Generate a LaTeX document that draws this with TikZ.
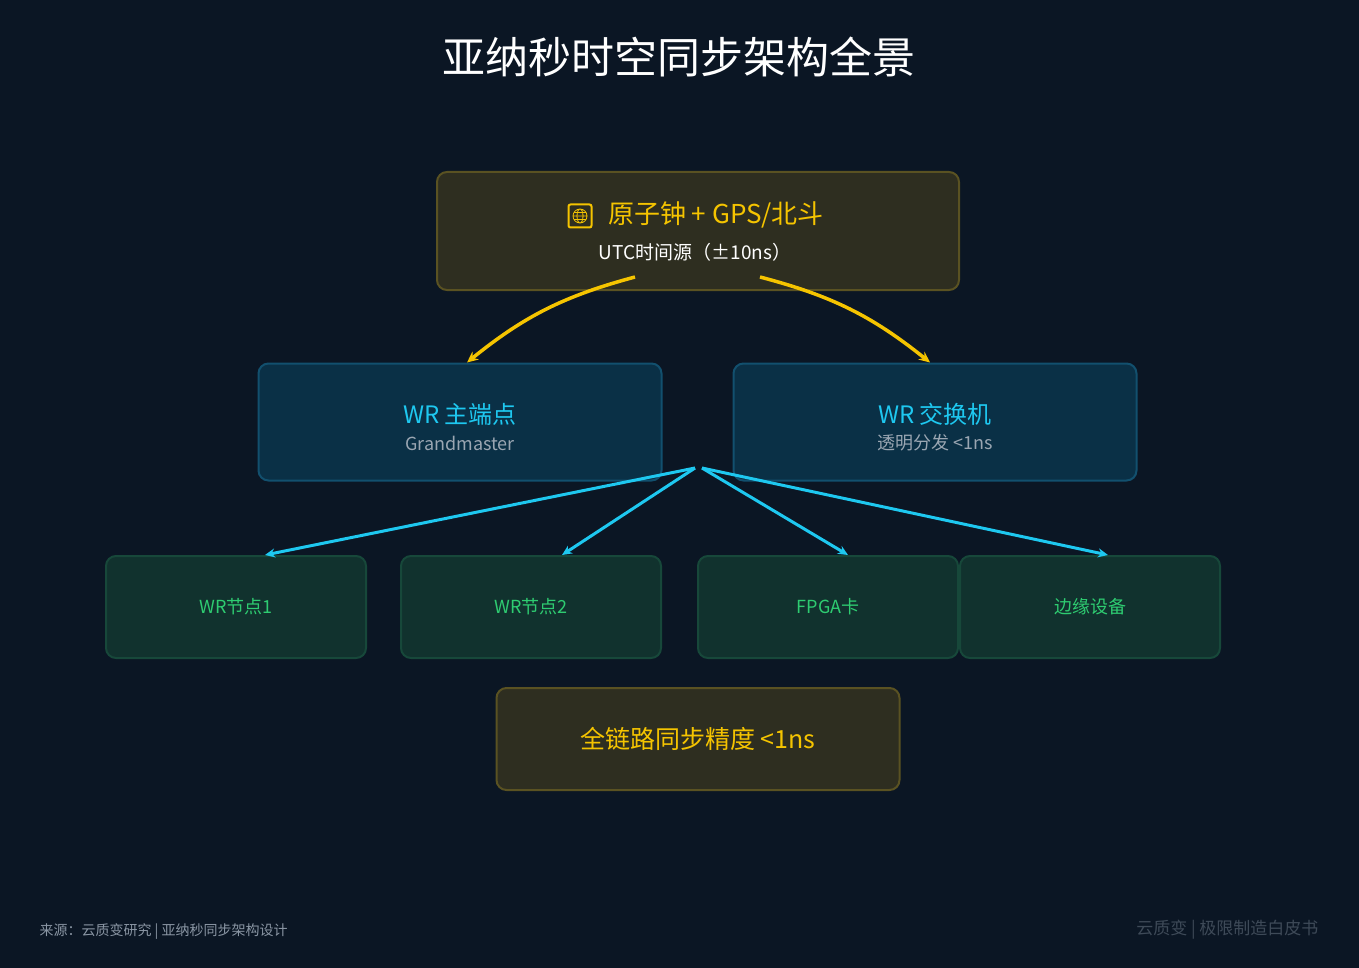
\documentclass[tikz,border=0pt]{standalone}
\usepackage{fontspec}
\setmainfont{Noto Sans CJK SC}
\usetikzlibrary{arrows.meta, positioning}
\definecolor{pagebg}{HTML}{0B1624}
\definecolor{srcfill}{HTML}{2E2E20}
\definecolor{srcline}{HTML}{5A5222}
\definecolor{goldtext}{HTML}{F5C400}
\definecolor{wrfill}{HTML}{0A3046}
\definecolor{wrline}{HTML}{12506E}
\definecolor{cyantext}{HTML}{1EC8F0}
\definecolor{subgrey}{HTML}{9AA6B2}
\definecolor{leaffill}{HTML}{11322E}
\definecolor{leafline}{HTML}{17483A}
\definecolor{leaftext}{HTML}{2ECC71}
\definecolor{footgrey}{HTML}{8A96A4}
\definecolor{markgrey}{HTML}{3E4A58}

\begin{document}
\begin{tikzpicture}[x=1pt, y=-1pt,
    srcbox/.style={rectangle, rounded corners=10pt, draw=srcline, line width=2pt, fill=srcfill, minimum width=522pt, minimum height=118pt},
    wrbox/.style={rectangle, rounded corners=10pt, draw=wrline, line width=2pt, fill=wrfill, minimum width=403pt, minimum height=117pt},
    leaf/.style={rectangle, rounded corners=10pt, draw=leafline, line width=2pt, fill=leaffill, minimum width=260pt, minimum height=102pt, text=leaftext, font=\fontsize{18}{21}\selectfont},
    goldarrow/.style={-{Stealth[length=11pt,width=10pt]}, line width=3.5pt, goldtext},
    cyanarrow/.style={-{Stealth[length=10pt,width=9pt]}, line width=3pt, cyantext}
]
\fill[pagebg] (0,0) rectangle (1359,968);

\node[white, font=\fontsize{43}{50}\selectfont] (title) at (679,57) {亚纳秒时空同步架构全景};

% time source
\node[srcbox] (source) at (698,231) {};
\node[goldtext, font=\fontsize{26}{31}\selectfont] (srctitle) at (716,215) {原子钟 + GPS/北斗};
\node[white, font=\fontsize{19}{23}\selectfont] (srcsub) at (695,252) {UTC时间源（±10ns）};
\node[draw=goldtext, line width=2pt, rounded corners=2pt, minimum size=23pt, inner sep=0pt] (icon) at (580,216) {};
\draw[goldtext, line width=0.8pt] (icon.center) circle (7pt)
  (icon.center) ellipse (3pt and 7pt) ([xshift=-7pt]icon.center) -- ([xshift=7pt]icon.center)
  ([shift={(-6pt,-3.5pt)}]icon.center) -- ([shift={(6pt,-3.5pt)}]icon.center)
  ([shift={(-6pt,3.5pt)}]icon.center) -- ([shift={(6pt,3.5pt)}]icon.center);

% WR layer
\node[wrbox] (master) at (460,422) {};
\node[cyantext, font=\fontsize{24}{29}\selectfont] at (460,414) {WR 主端点};
\node[subgrey, font=\fontsize{18}{21}\selectfont] at (460,443) {Grandmaster};
\node[wrbox] (switch) at (935,422) {};
\node[cyantext, font=\fontsize{24}{29}\selectfont] at (935,414) {WR 交换机};
\node[subgrey, font=\fontsize{18}{21}\selectfont] at (935,443) {透明分发 <1ns};

% endpoints
\node[leaf] (node1) at (236,607) {WR节点1};
\node[leaf] (node2) at (531,607) {WR节点2};
\node[leaf] (fpga) at (828,607) {FPGA卡};
\node[leaf] (edge) at (1090,607) {边缘设备};

% summary
\node[srcbox, minimum width=403pt, minimum height=102pt, text=goldtext, font=\fontsize{25}{30}\selectfont] (precision) at (698,739) {全链路同步精度 <1ns};

\node[footgrey, anchor=west, font=\fontsize{14}{17}\selectfont] (sourcenote) at (36,931) {来源：云质变研究 | 亚纳秒同步架构设计};
\node[markgrey, anchor=east, font=\fontsize{17}{21}\selectfont] (brand) at (1322,930) {云质变 | 极限制造白皮书};

\coordinate (srcL) at (635,277);
\coordinate (srcR) at (760,277);
\coordinate (hubL) at (695,468);
\coordinate (hubR) at (702,468);
\draw[goldarrow] (srcL) to[bend right=12] ([xshift=7pt]master.north);
\draw[goldarrow] (srcR) to[bend left=12] ([xshift=-5pt]switch.north);
\draw[cyanarrow] (hubL) -- ([xshift=29pt]node1.north);
\draw[cyanarrow] (hubL) -- ([xshift=31pt]node2.north);
\draw[cyanarrow] (hubR) -- ([xshift=20pt]fpga.north);
\draw[cyanarrow] (hubR) -- ([xshift=18pt]edge.north);
\end{tikzpicture}
\end{document}
